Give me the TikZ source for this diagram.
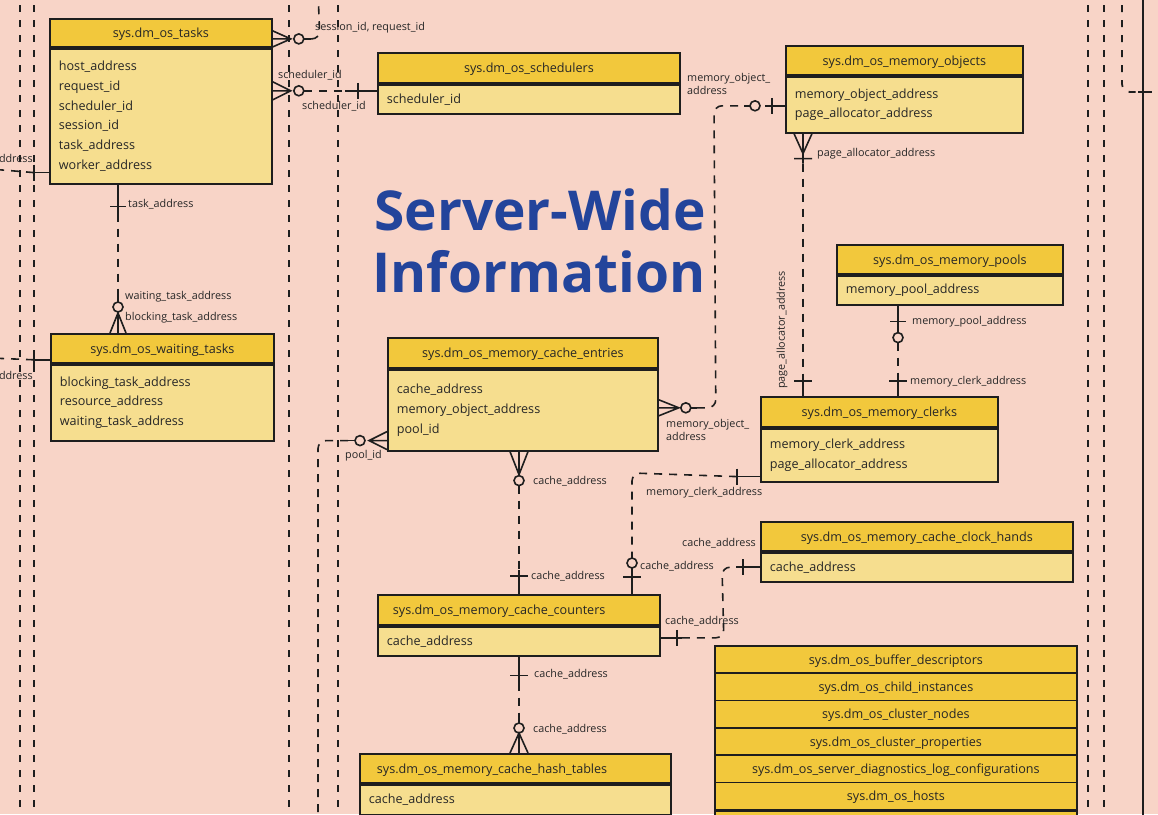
\documentclass[tikz,border=0pt]{standalone}
\usepackage{fontspec}
\setmainfont{Open Sans}
\usetikzlibrary{calc}

\definecolor{bgc}{HTML}{F8D4C7}
\definecolor{hdrc}{HTML}{F2C83C}
\definecolor{fldc}{HTML}{F6DE8F}
\definecolor{linec}{HTML}{1E1E1E}
\definecolor{txtc}{HTML}{262626}
\definecolor{ttlc}{HTML}{23449B}

\tikzset{
  hdr/.style={draw=linec, fill=hdrc, line width=1.8pt, anchor=north west, inner sep=0pt, text height=11.5pt, text depth=2pt, text=txtc, font=\fontsize{12.6}{15}\selectfont},
  fld/.style={draw=linec, fill=fldc, line width=1.8pt, anchor=north west, inner xsep=9pt, inner ysep=0pt, align=left, text=txtc, font=\fontsize{12.6}{19.8}\selectfont},
  lbl/.style={anchor=west, inner sep=0pt, text=txtc, font=\fontsize{10.8}{13}\selectfont},
  conn/.style={draw=linec, line width=1.6pt},
  dsh/.style={conn, dash pattern=on 8pt off 7pt},
  bgline/.style={draw=linec, line width=1.8pt, dash pattern=on 7pt off 8pt},
  ttl/.style={anchor=base, inner sep=0pt, text=ttlc, font=\fontsize{55}{60}\selectfont\bfseries}
}

\begin{document}
\begin{tikzpicture}[x=1pt, y=-1pt]
  \useasboundingbox (0,0) rectangle (1158,814);
  \fill[bgc] (0,0) rectangle (1158,814);

  % lines coming through from the rest of the diagram
  \foreach \x in {20,34,289,338,1088,1104}
    \draw[bgline] (\x,-10) -- (\x,824);
  \draw[bgline, rounded corners=8pt] (1122,-10) -- (1122,92) -- (1138,92);
  \draw[conn] (1138,92) -- (1152,92);
  \draw[conn] (1143,-10) -- (1143,824);

  % title
  \node[ttl] (ttl1) at (540,230) {Server-Wide};
  \node[ttl] (ttl2) at (539,292) {Information};

  % tables
  \node[hdr, minimum width=222pt, minimum height=28pt] (tasks) at (49,18) {sys.dm\_os\_tasks};
  \node[fld, text width=204pt, minimum height=135pt] (tasksf) at (tasks.south west) {host\_address\\request\_id\\scheduler\_id\\session\_id\\task\_address\\worker\_address};
  \node[hdr, minimum width=302pt, minimum height=30pt] (sched) at (377,52) {sys.dm\_os\_schedulers};
  \node[fld, text width=284pt, minimum height=29pt] (schedf) at (sched.south west) {scheduler\_id};
  \node[hdr, minimum width=237pt, minimum height=29pt] (mobj) at (785,45) {sys.dm\_os\_memory\_objects};
  \node[fld, text width=219pt, minimum height=56pt] (mobjf) at (mobj.south west) {memory\_object\_address\\page\_allocator\_address};
  \node[hdr, minimum width=223pt, minimum height=29pt] (wait) at (50,333) {sys.dm\_os\_waiting\_tasks};
  \node[fld, text width=205pt, minimum height=76pt] (waitf) at (wait.south west) {blocking\_task\_address\\resource\_address\\waiting\_task\_address};
  \node[hdr, minimum width=270pt, minimum height=30pt] (entr) at (387,337) {sys.dm\_os\_memory\_cache\_entries};
  \node[fld, text width=252pt, minimum height=81pt] (entrf) at (entr.south west) {cache\_address\\memory\_object\_address\\pool\_id};
  \node[hdr, minimum width=226pt, minimum height=29pt] (pool) at (836,244) {sys.dm\_os\_memory\_pools};
  \node[fld, text width=208pt, minimum height=29pt] (poolf) at (pool.south west) {memory\_pool\_address};
  \node[hdr, minimum width=237pt, minimum height=30pt] (clrk) at (760,396) {sys.dm\_os\_memory\_clerks};
  \node[fld, text width=219pt, minimum height=53pt] (clrkf) at (clrk.south west) {memory\_clerk\_address\\page\_allocator\_address};
  \node[hdr, minimum width=312pt, minimum height=29pt] (hand) at (760,521) {sys.dm\_os\_memory\_cache\_clock\_hands};
  \node[fld, text width=294pt, minimum height=29pt] (handf) at (hand.south west) {cache\_address};
  \node[hdr, align=left, inner xsep=15pt, text width=252pt, minimum height=30pt] (cntr) at (377,594) {sys.dm\_os\_memory\_cache\_counters};
  \node[fld, text width=264pt, minimum height=29pt] (cntrf) at (cntr.south west) {cache\_address};
  \node[hdr, align=left, inner xsep=17pt, text width=277pt, minimum height=29pt] (hash) at (359,753) {sys.dm\_os\_memory\_cache\_hash\_tables};
  \node[fld, text width=293pt, minimum height=30pt] (hashf) at (hash.south west) {cache\_address};

  % list of views without keys
  \foreach \nm [count=\i from 0] in {buffer\_descriptors,child\_instances,cluster\_nodes,cluster\_properties,server\_diagnostics\_log\_configurations,hosts}
    \node[hdr, minimum width=362pt, minimum height=27.3pt] (os\i) at (714,{645+27.3*\i}) {sys.dm\_os\_\nm};
  \node[hdr, minimum width=362pt, minimum height=27.3pt] (os6) at (os5.south west) {};

  % tasks -- session / request
  \coordinate (a1) at ($(tasks.east)+(0,6)$);
  \coordinate (up1) at (318,-10);
  \draw[conn] (a1) ++(0,-8) -- ++(18,8) -- ++(-18,8) (a1) -- ++(18,0);
  \draw[conn, fill=bgc] ($(a1)+(26,0)$) circle (5pt);
  \draw[conn] ($(a1)+(31,0)$) -- ++(7,0);
  \draw[dsh, rounded corners=8pt] ($(a1)+(38,0)$) -- ($(a1)+(47,0)$) -- (up1);

  % tasks -- schedulers
  \coordinate (a2) at ($(tasksf.north east)+(0,43)$);
  \coordinate (b2) at ($(schedf.north west)+(0,7)$);
  \draw[conn] (a2) ++(0,-9) -- ++(18,9) -- ++(-18,9) (a2) -- ++(18,0);
  \draw[conn, fill=bgc] ($(a2)+(26,0)$) circle (5pt);
  \draw[dsh] ($(a2)+(31,0)$) -- ($(b2)+(-32,0)$);
  \draw[conn] ($(b2)+(-32,0)$) -- (b2) ($(b2)+(-19,-8)$) -- ++(0,16);

  % tasks and waiting tasks -- left
  \coordinate (a3) at ($(tasksf.south west)+(0,-12)$);
  \coordinate (lt3) at (-10,169);
  \draw[conn] (a3) -- ++(-15,0) ++(0,-8) -- ++(0,16);
  \draw[dsh] ($(a3)+(-15,0)$) -- (lt3);
  \coordinate (a4) at ($(wait.south west)+(0,-4)$);
  \coordinate (lt4) at (-10,358);
  \draw[conn] (a4) -- ++(-16,0) ++(0,-8) -- ++(0,16);
  \draw[dsh] ($(a4)+(-16,0)$) -- (lt4);

  % tasks -- waiting tasks
  \coordinate (a5) at ($(tasksf.south west)+(69,0)$);
  \coordinate (b5) at ($(wait.north west)+(68,0)$);
  \draw[conn] (a5) -- ++(0,29) ($(a5)+(-8,22)$) -- ++(16,0);
  \draw[dsh] ($(a5)+(0,29)$) -- ($(b5)+(0,-38)$);
  \draw[conn] ($(b5)+(0,-38)$) -- ++(0,7);
  \draw[conn, fill=bgc] ($(b5)+(0,-26)$) circle (5pt);
  \draw[conn] (b5) ++(-8,0) -- ++(8,-20) -- ++(8,20) (b5) -- ++(0,-20);

  % cache entries -- pool_id
  \coordinate (a6) at ($(entrf.south west)+(0,-11)$);
  \coordinate (dn6) at (318,824);
  \draw[conn] (a6) ++(0,-9) -- ++(-18,9) -- ++(18,9) (a6) -- ++(-18,0);
  \draw[conn, fill=bgc] ($(a6)+(-27,0)$) circle (5pt);
  \draw[conn] ($(a6)+(-32,0)$) -- ++(-7,0);
  \draw[dsh, rounded corners=8pt] ($(a6)+(-39,0)$) -- ($(a6)+(-69,0)$) -- (dn6);

  % memory objects -- cache entries
  \coordinate (a7) at ($(mobjf.north west)+(0,30)$);
  \coordinate (b7) at ($(entrf.north east)+(0,39)$);
  \draw[conn] (a7) -- ++(-20,0) ($(a7)+(-13,-8)$) -- ++(0,16);
  \draw[conn, fill=bgc] ($(a7)+(-30,0)$) circle (5pt);
  \draw[conn] ($(a7)+(-35,0)$) -- ++(-6,0);
  \draw[conn] (b7) ++(0,-8) -- ++(20,8) -- ++(-20,8) (b7) -- ++(20,0);
  \draw[conn, fill=bgc] ($(b7)+(27,0)$) circle (5pt);
  \draw[conn] ($(b7)+(32,0)$) -- ++(6,0);
  \draw[dsh, rounded corners=8pt] ($(b7)+(38,0)$) -- ($(b7)+(57,0)$) -- ($(a7)+(-71,0)$) -- ($(a7)+(-41,0)$);

  % memory objects -- memory clerks
  \coordinate (a8) at ($(mobjf.south west)+(18,0)$);
  \coordinate (b8) at ($(clrk.north west)+(43,0)$);
  \draw[conn] (a8) ++(-9,0) -- ++(9,20) -- ++(9,-20) (a8) -- ++(0,30) ($(a8)+(-9,25)$) -- ++(18,0);
  \draw[dsh] ($(a8)+(0,30)$) -- ($(b8)+(0,-22)$);
  \draw[conn] ($(b8)+(0,-22)$) -- (b8) ($(b8)+(-9,-15)$) -- ++(18,0);

  % memory pools -- memory clerks
  \coordinate (a9) at ($(poolf.south west)+(62,0)$);
  \coordinate (b9) at ($(clrk.north west)+(138,0)$);
  \draw[conn] (a9) -- ++(0,27) ($(a9)+(-8,16)$) -- ++(16,0);
  \draw[conn, fill=bgc] ($(a9)+(0,32)$) circle (5pt);
  \draw[dsh] ($(a9)+(0,37)$) -- ($(b9)+(0,-22)$);
  \draw[conn] ($(b9)+(0,-22)$) -- (b9) ($(b9)+(-9,-15)$) -- ++(18,0);

  % memory clerks -- cache counters
  \coordinate (a10) at ($(clrkf.south west)+(0,-6)$);
  \coordinate (b10) at ($(cntr.north west)+(255,0)$);
  \draw[conn] (a10) -- ++(-23,0) ($(a10)+(-23,-8)$) -- ++(0,16);
  \draw[dsh, rounded corners=8pt] ($(a10)+(-23,0)$) -- ($(b10)+(0,-121)$) -- ($(b10)+(0,-36)$);
  \draw[conn, fill=bgc] ($(b10)+(0,-31)$) circle (5pt);
  \draw[conn] ($(b10)+(0,-26)$) -- (b10) ($(b10)+(-9,-17)$) -- ++(18,0);

  % cache entries -- cache counters
  \coordinate (a11) at ($(entrf.south west)+(132,0)$);
  \coordinate (b11) at ($(cntr.north west)+(142,0)$);
  \draw[conn] (a11) ++(-9,0) -- ++(9,23) -- ++(9,-23) (a11) -- ++(0,23);
  \draw[conn, fill=bgc] ($(a11)+(0,29)$) circle (5pt);
  \draw[dsh] ($(a11)+(0,34)$) -- ($(b11)+(0,-24)$);
  \draw[conn] ($(b11)+(0,-24)$) -- (b11) ($(b11)+(-9,-18)$) -- ++(18,0);

  % cache counters -- clock hands
  \coordinate (a12) at ($(cntrf.north east)+(0,12)$);
  \coordinate (b12) at (handf.west);
  \draw[conn] (a12) -- ++(21,0) ($(a12)+(16,-8)$) -- ++(0,16);
  \draw[dsh, rounded corners=8pt] ($(a12)+(21,0)$) -- ($(a12)+(63,0)$) -- ($(b12)+(-38,0)$) -- ($(b12)+(-24,0)$);
  \draw[conn] ($(b12)+(-24,0)$) -- (b12) ($(b12)+(-17,-8)$) -- ++(0,16);

  % cache counters -- hash tables
  \coordinate (a13) at ($(cntrf.south west)+(142,0)$);
  \coordinate (b13) at ($(hash.north west)+(160,0)$);
  \draw[conn] (a13) -- ++(0,26) ($(a13)+(-9,19)$) -- ++(18,0);
  \draw[dsh] ($(a13)+(0,26)$) -- ($(b13)+(0,-37)$);
  \draw[conn] ($(b13)+(0,-37)$) -- ++(0,7);
  \draw[conn, fill=bgc] ($(b13)+(0,-25)$) circle (5pt);
  \draw[conn] (b13) ++(-9,0) -- ++(9,-20) -- ++(9,20) (b13) -- ++(0,-20);

  % key labels
  \node[lbl] (l1) at (315,28) {session\_id, request\_id};
  \node[lbl] (l2) at (278,75) {scheduler\_id};
  \node[lbl] (l3) at (302,106) {scheduler\_id};
  \node[lbl, anchor=east] (l4) at (33,158) {address};
  \node[lbl, anchor=east] (l5) at (33,375) {address};
  \node[lbl] (l6) at (128,204) {task\_address};
  \node[lbl] (l7) at (125,297) {waiting\_task\_address};
  \node[lbl] (l8) at (125,318) {blocking\_task\_address};
  \node[lbl] (l9) at (345,456) {pool\_id};
  \node[lbl, align=left] (l10) at (687,83.5) {memory\_object\_\\address};
  \node[lbl, align=left] (l11) at (666,430) {memory\_object\_\\address};
  \node[lbl] (l12) at (817,154) {page\_allocator\_address};
  \node[lbl, rotate=90, anchor=center] (l13) at (782,330) {page\_allocator\_address};
  \node[lbl] (l14) at (912,322) {memory\_pool\_address};
  \node[lbl] (l15) at (910,382) {memory\_clerk\_address};
  \node[lbl] (l16) at (646,493) {memory\_clerk\_address};
  \node[lbl] (l17) at (640,566) {cache\_address};
  \node[lbl] (l18) at (533,481) {cache\_address};
  \node[lbl] (l19) at (531,576) {cache\_address};
  \node[lbl] (l20) at (665,621) {cache\_address};
  \node[lbl] (l21) at (682,543) {cache\_address};
  \node[lbl] (l22) at (534,674) {cache\_address};
  \node[lbl] (l23) at (533,729) {cache\_address};
\end{tikzpicture}
\end{document}
